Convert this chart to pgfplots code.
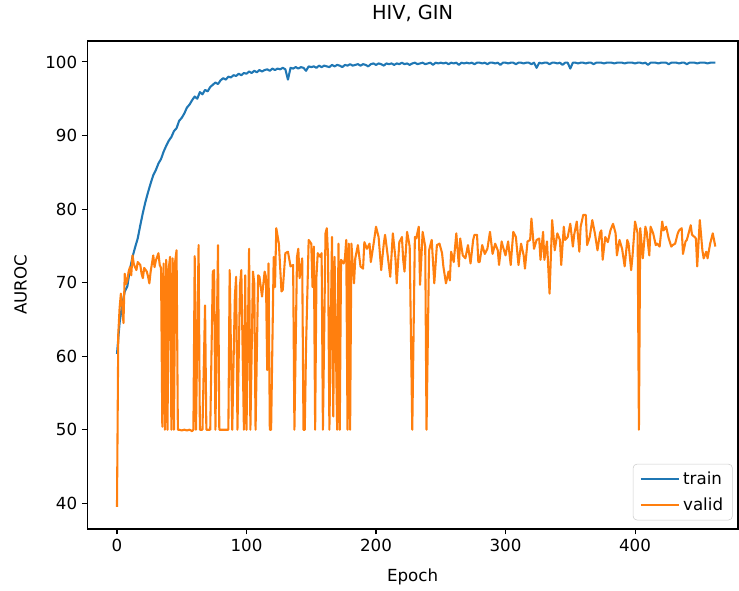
\documentclass[border=0pt]{standalone}
\usepackage{pgfplots}
\pgfplotsset{compat=1.18}
\usepackage{fontspec}
\setmainfont{DejaVu Sans}
\definecolor{mplblue}{HTML}{1F77B4}
\definecolor{mplorange}{HTML}{FF7F0E}
\begin{document}
\begin{tikzpicture}[x=1pt,y=1pt]
\useasboundingbox (0,0) rectangle (554.25,442.5);
\begin{axis}[
  at={(65.4pt,45.75pt)}, anchor=south west,
  width=488.1pt, height=366pt, scale only axis,
  xmin=-23, xmax=479.5, ymin=36.5, ymax=102.85,
  xtick={0,100,200,300,400}, ytick={40,50,60,70,80,90,100},
  tick pos=left, tick align=outside,
  major tick length=4pt,
  every tick/.style={black, line width=0.8pt},
  axis line style={line width=0.8pt},
  /pgf/number format/assume math mode=true,
  /pgf/number format/1000 sep={},
  ticklabel style={font=\fontsize{12.5}{14}\selectfont},
  title={HIV, GIN},
  title style={font=\fontsize{14.5}{16}\selectfont, at={(axis description cs:0.5,1)}, anchor=base, yshift=10pt},
  xlabel={Epoch}, ylabel={AUROC},
  xlabel style={font=\fontsize{12.5}{14}\selectfont, at={(axis description cs:0.5,0)}, anchor=base, yshift=-39pt},
  ylabel style={font=\fontsize{12.5}{14}\selectfont, at={(axis description cs:0,0.5)}, anchor=base, yshift=45.5pt},
  legend style={at={(1,0)}, anchor=south east, xshift=-4pt, yshift=6.5pt, draw=black!20, rounded corners=3pt, font=\fontsize{12.5}{14}\selectfont, inner xsep=5pt, inner ysep=4pt, row sep=4pt},
  legend cell align=left,
  legend image code/.code={\draw[#1] (0pt,0pt) -- (29pt,0pt);},
]
\addplot[mplblue, line width=1.56pt, line join=round] coordinates {
(0,60.3)(2,64.5)(4,67.0)(6,68.8)(8,69.5)(10,71.8)(12,73.5)(14,74.8)(16,76.0)(18,77.8)
(20,79.5)(22,81.0)(24,82.3)(26,83.5)(28,84.6)(30,85.3)(32,86.2)(34,86.8)(36,87.8)(38,88.6)
(40,89.3)(42,89.8)(44,90.6)(46,91.0)(48,92.0)(50,92.4)(52,93.0)(54,93.8)(56,94.2)(58,94.8)
(60,95.3)(62,95.0)(64,95.9)(66,95.6)(68,96.2)(70,96.0)(72,96.6)(74,96.9)(76,97.2)(78,97.0)
(80,97.5)(82,97.8)(84,97.6)(86,98.0)(88,97.9)(90,98.2)(92,98.1)(94,98.4)(96,98.2)(98,98.5)
(100,98.4)(102,98.7)(104,98.5)(106,98.8)(108,98.6)(110,98.9)(112,98.7)(114,98.9)(116,99.0)(118,98.8)
(120,99.1)(122,98.9)(124,99.1)(126,99.0)(128,99.2)(130,99.0)(132,97.6)(134,99.2)(136,99.1)(138,99.3)
(140,99.1)(142,99.3)(144,99.2)(146,98.8)(148,99.4)(150,99.3)(152,99.4)(154,99.2)(156,99.5)(158,99.3)
(160,99.5)(162,99.4)(164,99.3)(166,99.6)(168,99.4)(170,99.6)(172,99.5)(174,99.3)(176,99.6)(178,99.5)
(180,99.7)(182,99.5)(184,99.6)(186,99.7)(188,99.5)(190,99.7)(192,99.6)(194,99.4)(196,99.7)(198,99.8)
(200,99.6)(202,99.8)(204,99.7)(206,99.5)(208,99.8)(210,99.7)(212,99.8)(214,99.6)(216,99.8)(218,99.7)
(220,99.9)(222,99.7)(224,99.8)(226,99.6)(228,99.8)(230,99.9)(232,99.7)(234,99.8)(236,99.9)(238,99.7)
(240,99.8)(242,99.9)(244,99.6)(246,99.9)(248,99.8)(250,99.9)(252,99.8)(254,99.9)(256,99.7)(258,99.9)
(260,99.8)(262,99.9)(264,99.6)(266,99.9)(268,99.8)(270,99.9)(272,99.8)(274,99.9)(276,99.7)(278,99.9)
(280,99.9)(282,99.8)(284,99.9)(286,99.7)(288,99.9)(290,99.9)(292,99.8)(294,99.9)(296,99.6)(298,99.9)
(300,99.9)(302,99.8)(304,99.9)(306,99.9)(308,99.7)(310,99.9)(312,99.9)(314,99.8)(316,99.9)(318,99.9)
(320,99.7)(322,99.9)(324,99.2)(326,99.9)(328,99.8)(330,99.9)(332,99.9)(334,99.7)(336,99.9)(338,99.9)
(340,99.8)(342,99.9)(344,99.6)(346,99.9)(348,99.9)(350,99.1)(352,99.9)(354,99.9)(356,99.8)(358,99.9)
(360,99.9)(362,99.8)(364,99.9)(366,99.9)(368,99.7)(370,99.9)(372,99.9)(374,99.9)(376,99.8)(378,99.9)
(380,99.9)(382,99.9)(384,99.8)(386,99.9)(388,99.9)(390,99.9)(392,99.8)(394,99.9)(396,99.9)(398,99.9)
(400,99.8)(402,99.9)(404,99.9)(406,99.8)(408,99.9)(410,99.6)(412,99.9)(414,99.9)(416,99.9)(418,99.8)
(420,99.9)(422,99.9)(424,99.9)(426,99.7)(428,99.9)(430,99.9)(432,99.9)(434,99.8)(436,99.9)(438,99.9)
(440,99.7)(442,99.9)(444,99.9)(446,99.9)(448,99.8)(450,99.9)(452,99.9)(454,99.9)(456,99.8)(458,99.9)
(460,99.9)(462,99.9)
};
\addlegendentry{train}
\addplot[mplorange, line width=1.56pt, line join=round] coordinates {
(0,39.5)(1,63.0)(2,66.5)(3,68.5)(4,67.0)(5,64.5)(6,71.2)(7,69.8)(8,70.3)(9,71.5)
(10,72.1)(11,71.0)(12,73.7)(13,72.5)(15,71.7)(16,72.8)(18,72.4)(19,71.2)(20,70.6)(21,72.0)
(23,71.5)(24,70.8)(25,69.9)(26,71.5)(28,73.7)(29,72.1)(30,73.0)(32,74.0)(33,72.4)(34,72.0)
(35,50.4)(36,72.6)(37,50.0)(38,73.1)(39,50.0)(40,72.0)(41,73.5)(42,50.0)(43,73.3)(44,50.0)
(45,73.0)(46,74.4)(47,50.0)(48,50.0)(50,49.9)(52,50.0)(54,49.9)(56,50.0)(58,49.8)(59,50.0)
(60,73.6)(61,50.0)(63,75.1)(64,50.0)(66,50.0)(68,66.9)(69,50.0)(72,50.0)(74,71.5)(75,71.7)
(76,50.0)(78,75.1)(79,50.0)(81,50.0)(83,50.0)(86,50.0)(87,71.7)(89,50.0)(91,68.1)(92,70.8)
(93,50.0)(95,69.7)(96,71.7)(98,50.0)(99,71.0)(100,50.0)(102,74.6)(103,50.0)(105,71.5)(106,69.9)
(107,50.0)(109,71.0)(110,70.8)(112,68.1)(114,71.5)(115,70.8)(116,58.1)(117,72.6)(118,50.0)(119,50.0)
(121,73.5)(122,69.4)(123,77.4)(125,75.3)(127,68.8)(128,69.0)(130,74.0)(132,74.2)(134,72.2)(136,72.4)
(137,50.0)(139,73.5)(140,74.6)(141,70.6)(143,73.3)(144,50.0)(145,50.0)(146,61.5)(148,75.8)(150,75.3)
(151,69.4)(152,74.9)(153,50.0)(154,70.8)(155,74.0)(157,73.5)(158,74.0)(159,50.0)(161,76.7)(162,77.4)
(163,73.5)(164,50.0)(166,76.2)(167,51.8)(168,73.5)(170,50.0)(171,75.3)(172,50.0)(173,73.1)(175,72.6)
(176,73.3)(177,75.8)(178,50.0)(179,75.3)(180,50.0)(181,75.3)(183,69.9)(184,73.3)(186,75.1)(188,72.2)
(190,71.9)(191,75.5)(193,74.6)(195,75.3)(196,72.8)(198,75.1)(200,77.6)(202,76.2)(204,71.7)(206,75.3)
(207,76.5)(209,73.7)(211,70.8)(213,76.7)(215,73.3)(216,69.9)(218,75.5)(220,76.2)(221,73.1)(222,71.5)
(224,76.9)(226,74.9)(228,50.0)(230,76.2)(231,76.0)(233,77.6)(234,69.7)(236,76.9)(238,74.9)(239,50.0)
(241,74.4)(243,75.8)(245,69.9)(247,75.1)(249,75.3)(251,74.0)(252,72.2)(254,69.9)(256,71.5)(257,70.3)
(258,74.2)(260,72.8)(262,76.7)(264,72.2)(265,76.0)(267,73.7)(269,73.3)(271,75.1)(273,72.6)(275,75.8)
(276,76.5)(278,76.5)(279,72.8)(280,72.8)(282,75.1)(284,73.9)(286,74.6)(288,76.9)(290,73.9)(292,75.3)
(294,74.4)(295,72.4)(297,75.6)(298,74.9)(300,73.7)(302,75.6)(304,72.4)(306,76.9)(308,76.2)(310,72.4)
(312,75.3)(314,73.7)(315,71.9)(317,75.6)(319,75.8)(320,78.7)(322,74.6)(324,75.8)(326,76.0)(327,73.1)
(329,76.9)(330,73.1)(332,75.6)(334,68.5)(336,78.5)(338,74.4)(340,76.7)(342,75.8)(343,72.4)(345,77.6)
(346,75.8)(348,76.2)(350,78.0)(352,74.9)(353,76.5)(355,78.3)(357,74.2)(358,77.6)(360,79.2)(362,79.2)
(363,75.1)(365,76.2)(367,78.5)(369,76.7)(371,74.4)(373,76.8)(374,77.1)(375,73.1)(377,76.2)(379,75.5)
(381,77.1)(383,78.0)(385,76.7)(386,73.7)(388,75.8)(390,74.6)(392,72.2)(394,75.8)(395,75.3)(397,71.7)
(398,73.5)(400,78.3)(402,76.7)(403,50.0)(404,77.4)(406,73.3)(408,77.6)(409,76.9)(411,73.7)(412,77.6)
(414,76.7)(416,75.1)(417,75.3)(419,74.9)(421,78.3)(422,77.1)(424,77.6)(426,76.0)(428,74.9)(429,75.1)
(431,75.3)(433,76.7)(434,77.1)(436,77.4)(437,73.9)(439,75.6)(440,75.8)(443,77.8)(444,76.5)(446,76.2)
(447,76.0)(448,72.2)(450,78.5)(452,74.4)(453,73.3)(455,74.2)(456,73.3)(458,75.3)(460,76.7)(462,74.9)
};
\addlegendentry{valid}
\end{axis}
\end{tikzpicture}
\end{document}
